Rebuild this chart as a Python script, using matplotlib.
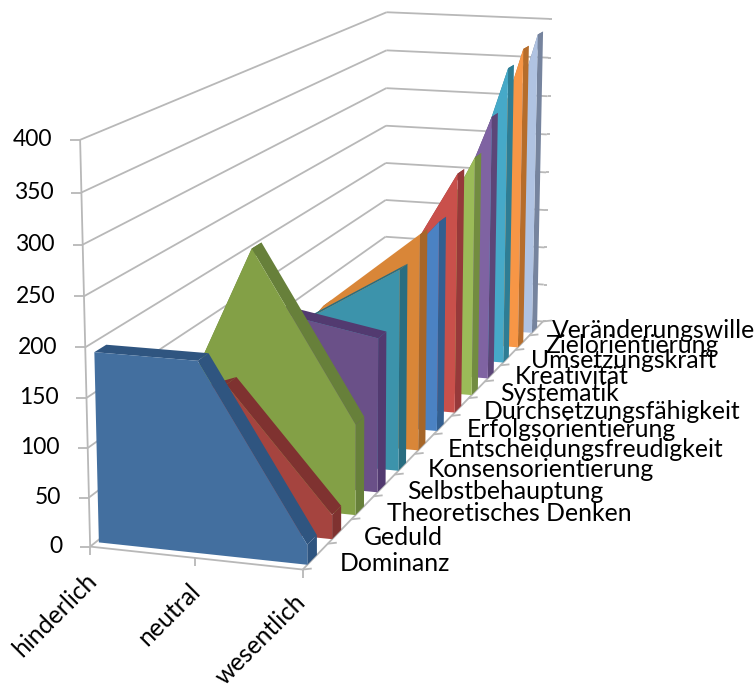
import numpy as np
import matplotlib
matplotlib.use("Agg")
import matplotlib.pyplot as plt
from matplotlib.patches import Polygon

plt.rcParams["font.family"] = ["Lato", "DejaVu Sans"]

categories = ["hinderlich", "neutral", "wesentlich"]
series_names = ["Dominanz", "Geduld", "Theoretisches Denken", "Selbstbehauptung",
                "Konsensorientierung", "Entscheidungsfreudigkeit", "Erfolgsorientierung",
                "Durchsetzungsfähigkeit", "Systematik", "Kreativität", "Umsetzungskraft",
                "Zielorientierung", "Veränderungswille"]
hinderlich = [192, 110, 40, 50, 35, 30, 25, 15, 15, 5, 5, 5, 5]
neutral = [192, 148, 268, 184, 155, 155, 120, 93, 75, 45, 30, 20, 15]
wesentlich = [20, 25, 95, 165, 220, 242, 240, 280, 285, 320, 367, 380, 388]
value_ticks = [0, 50, 100, 150, 200, 250, 300, 350, 400]

face_colors = ["#436f9f", "#a5443f", "#83a046", "#6a5088", "#3c93ab", "#d98638",
               "#4b82c3", "#c9504b", "#9bbb58", "#7f63a2", "#46a9c8", "#f79646", "#b0c3e2"]
band_colors = ["#2f5580", "#7f3230", "#67803a", "#523a70", "#296d80", "#a66629",
               "#335f90", "#96393a", "#728c40", "#5c4678", "#2e7d94", "#b66d2b", "#76849e"]
label_dx = [24, 24, 24, 23, 23, 24, 24, 24, 23, 22, 23, 23, 16]

# corners of the plot box: (x, depth, value) in 0..1 -> pixel position
box_world = np.array([[0, 0, 0], [1, 0, 0], [0, 0, 1], [0, 1, 1],
                      [1, 1, 1], [0, 1, 0], [1, 1, 0]], float)
box_pixel = np.array([[90, 546], [303, 570], [80, 140], [387, 12],
                      [549, 19], [385, 310], [543, 321]], float)


def fit_camera(world, pixel):
    rows = []
    for (x, y, z), (u, v) in zip(world, pixel):
        rows.append([x, y, z, 1, 0, 0, 0, 0, -u * x, -u * y, -u * z, -u])
        rows.append([0, 0, 0, 0, x, y, z, 1, -v * x, -v * y, -v * z, -v])
    return np.linalg.svd(np.array(rows))[2][-1].reshape(3, 4)


camera = fit_camera(box_world, box_pixel)


def project(x, d, value):
    p = camera @ np.array([x, d, value / value_ticks[-1], 1.0])
    return p[0] / p[2], p[1] / p[2]


fig = plt.figure(figsize=(7.56, 6.9), dpi=100)
ax = fig.add_axes([0, 0, 1, 1])
ax.set_xlim(0, 756)
ax.set_ylim(690, 0)
ax.axis("off")

grid = "#b8b8b8"
font_size = 17.8
n = len(series_names)


def seg(a, b, lw=1.3, color=grid, z=1):
    ax.plot([a[0], b[0]], [a[1], b[1]], color=color, lw=lw, zorder=z, solid_capstyle="butt")


# walls
for v in value_ticks:
    seg(project(0, 0, v), project(0, 1, v))
    seg(project(0, 1, v), project(1, 1, v))
    left = project(0, 0, v)
    seg(left, (left[0] - 10, left[1]), z=1)
    right = project(1, 1, v)
    seg(right, (right[0] + 3, right[1]))
    ax.text(left[0] - 28, left[1], str(v), ha="right", va="center", fontsize=16.5, color="black")

# axis lines and ticks
seg(project(0, 0, 0), project(0, 0, value_ticks[-1]))
seg(project(0, 0, 0), project(1, 0, 0))
seg(project(1, 0, 0), project(1, 1, 0))
for i, name in enumerate(categories):
    t = project(i / 2, 0, 0)
    seg(t, (t[0], t[1] + 8))
    ax.text(t[0] - 5 - 2 * i, t[1] + 22 - 0.5 * i, name, rotation=45, ha="right", va="top",
            rotation_mode="anchor", fontsize=font_size, color="black")
for i in range(n + 1):
    t = project(1, i / n, 0)
    seg(t, (t[0] + 9, t[1] - 1))

# one extruded area per series, back to front
d_front = 0.18
d_back = 0.56
for i in range(n - 1, -1, -1):
    values = [hinderlich[i], neutral[i], wesentlich[i]]
    xs = [0.015, 0.5, 1]
    d0 = (i + d_front) / n
    d1 = (i + d_back) / n
    for j in range(2):
        quad = [project(xs[j], d0, values[j]), project(xs[j + 1], d0, values[j + 1]),
                project(xs[j + 1], d1, values[j + 1]), project(xs[j], d1, values[j])]
        ax.add_patch(Polygon(quad, closed=True, fc=band_colors[i], ec="none", zorder=2 + (n - i) * 3))
    cap = [project(1, d0, 0), project(1, d0, values[2]), project(1, d1, values[2]), project(1, d1, 0)]
    ax.add_patch(Polygon(cap, closed=True, fc=band_colors[i], ec="none", zorder=3 + (n - i) * 3))
    front = [project(xs[0], d0, 0)] + [project(x, d0, v) for x, v in zip(xs, values)] + [project(1, d0, 0)]
    ax.add_patch(Polygon(front, closed=True, fc=face_colors[i], ec="none", zorder=4 + (n - i) * 3))

    lx, ly = project(1, (i + 0.5) / n, 0)
    ax.text(lx + label_dx[i], ly + 7 - 0.4 * i, series_names[i], ha="left", va="center",
            fontsize=font_size, color="black", zorder=100)

fig.savefig("out.png", dpi=100)
